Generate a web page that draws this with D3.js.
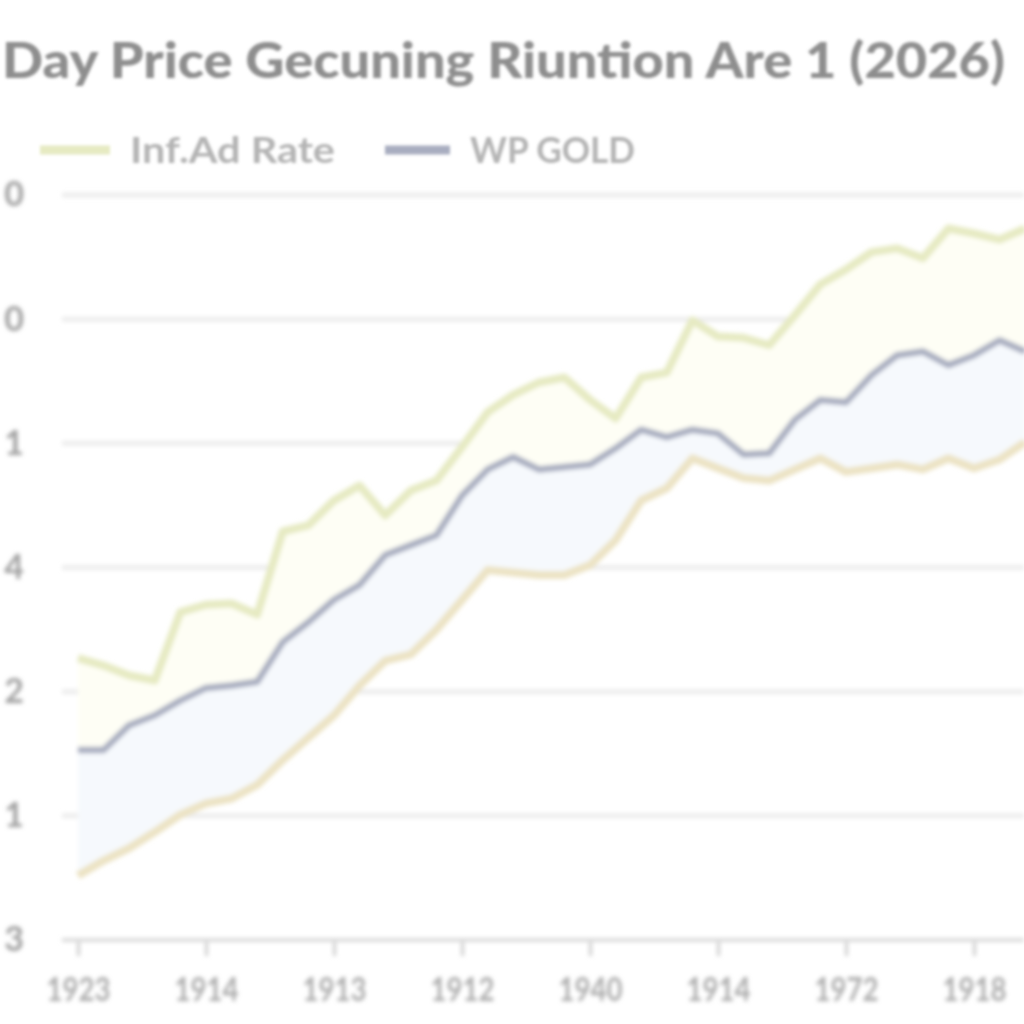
<!DOCTYPE html>
<html><head><meta charset="utf-8">
<script src="https://cdn.jsdelivr.net/npm/d3@7"></script>
<style>html,body{margin:0;padding:0;background:#fff;}svg{display:block;}</style>
</head><body>
<svg id="chart" width="1024" height="1024"></svg>
<script>
const title = "Day Price Gecuning Riuntion Are 1 (2026)";
const seriesNames = ["Inf.Ad Rate", "WP GOLD"];
const xTickLabels = ["1923", "1914", "1913", "1912", "1940", "1914", "1972", "1918"];
const xTickIndex = [0, 5, 10, 15, 20, 25, 30, 35];
const yTickValues = [0, 1, 2, 3, 4, 5, 6];
const yTickLabels = ["3", "1", "2", "4", "1", "0", "0"];

const greenValues = [2.27,2.21,2.13,2.09,2.64,2.70,2.71,2.62,3.29,3.34,3.54,3.66,3.42,3.62,3.70,3.97,4.25,4.39,4.49,4.53,4.35,4.20,4.53,4.57,4.99,4.86,4.85,4.79,5.03,5.28,5.40,5.54,5.57,5.49,5.73,5.69,5.64,5.73];
const blueValues = [1.53,1.53,1.73,1.81,1.93,2.03,2.05,2.08,2.40,2.56,2.74,2.86,3.10,3.18,3.26,3.58,3.79,3.89,3.79,3.81,3.83,3.96,4.11,4.05,4.11,4.08,3.91,3.92,4.19,4.35,4.33,4.55,4.71,4.74,4.63,4.71,4.83,4.74];
const tanValues = [0.52,0.64,0.74,0.87,1.01,1.10,1.14,1.25,1.45,1.63,1.81,2.05,2.25,2.30,2.50,2.74,2.98,2.96,2.94,2.94,3.02,3.22,3.54,3.64,3.88,3.80,3.72,3.70,3.79,3.88,3.77,3.80,3.83,3.79,3.88,3.80,3.87,4.01];

const svg = d3.select("#chart");
const defs = svg.append("defs");
defs.append("filter").attr("id","blur").attr("x","-5%").attr("y","-5%").attr("width","110%").attr("height","110%")
  .append("feGaussianBlur").attr("stdDeviation", 2);
defs.append("filter").attr("id","blurT").attr("x","-5%").attr("y","-20%").attr("width","110%").attr("height","140%")
  .append("feGaussianBlur").attr("stdDeviation", 1.5);

const x = d3.scaleLinear().domain([0, 35]).range([78, 974]);
const y = d3.scaleLinear().domain([0, 6]).range([940, 195]);

const root = svg.append("g").attr("filter","url(#blur)");

// gridlines
root.append("g").selectAll("line").data(yTickValues).join("line")
  .attr("x1", 62).attr("x2", 1024)
  .attr("y1", d => y(d)).attr("y2", d => y(d))
  .attr("stroke", d => d === 0 ? "#dcdcdc" : "#ededed")
  .attr("stroke-width", d => d === 0 ? 4 : 5);

// y labels
const yAxis = d3.axisLeft(y).tickValues(yTickValues).tickFormat((d,i) => yTickLabels[i]).tickSize(0).tickPadding(0);
const yg = root.append("g").attr("transform","translate(24,0)").call(yAxis);
yg.select(".domain").remove();
yg.selectAll("text").attr("font-family","Lato, sans-serif").attr("font-size",34).attr("font-weight","bold").attr("fill","#a0a0a0").attr("text-anchor","middle").attr("dx",-10);

// x axis
const xAxis = d3.axisBottom(x).tickValues(xTickIndex).tickFormat((d,i) => xTickLabels[i]).tickSize(14).tickPadding(22);
const xg = root.append("g").attr("transform","translate(0,942)").call(xAxis);
xg.select(".domain").remove();
xg.selectAll("line").attr("stroke","#cdcdcd").attr("stroke-width",3);
xg.selectAll("text").attr("font-family","Lato, sans-serif").attr("font-size",32).attr("font-weight","bold").attr("fill","#acacac").attr("textLength",64).attr("lengthAdjust","spacingAndGlyphs");

const idx = d3.range(greenValues.length);
// area fills
const areaGB = d3.area().x(i => x(i)).y0(i => y(blueValues[i])).y1(i => y(greenValues[i]));
const areaBT = d3.area().x(i => x(i)).y0(i => y(tanValues[i])).y1(i => y(blueValues[i]));
root.append("path").datum(idx).attr("d", areaGB).attr("fill","#fefef5");
root.append("path").datum(idx).attr("d", areaBT).attr("fill","#f6f9fd");

const line = vals => d3.line().x(i => x(i)).y(i => y(vals[i]))(idx);
root.append("path").attr("d", line(tanValues)).attr("fill","none").attr("stroke","#ece3c4").attr("stroke-width",8).attr("stroke-linejoin","round");
root.append("path").attr("d", line(greenValues)).attr("fill","none").attr("stroke","#e6eac2").attr("stroke-width",8).attr("stroke-linejoin","round");
root.append("path").attr("d", line(blueValues)).attr("fill","none").attr("stroke","#a8adc0").attr("stroke-width",6.5).attr("stroke-linejoin","round");

// title
const tg = svg.append("g").attr("filter","url(#blurT)");
tg.append("text").attr("x", 2).attr("y", 78).text(title)
  .attr("font-family","Lato, sans-serif").attr("font-size",50).attr("font-weight","900").attr("fill","#8e8e8e")
  .attr("textLength", 1003).attr("lengthAdjust","spacingAndGlyphs");

// legend
const legendColors = ["#e6eac2", "#a8adc0"];
const legendX = [40, 385];
const lg = tg.selectAll("g.leg").data(seriesNames).join("g").attr("class","leg")
  .attr("transform",(d,i) => `translate(${legendX[i]},150)`);
lg.append("line").attr("x1",0).attr("x2",(d,i)=> i===0?70:65).attr("y1",0).attr("y2",0)
  .attr("stroke",(d,i)=>legendColors[i]).attr("stroke-width",9);
lg.append("text").attr("x",(d,i)=> i===0?90:85).attr("y",13).text(d=>d)
  .attr("font-family","Lato, sans-serif").attr("font-size",36).attr("font-weight","bold").attr("fill","#b4b4b4")
  .attr("textLength",(d,i)=> i===0?205:165).attr("lengthAdjust","spacingAndGlyphs");
</script>
</body></html>
